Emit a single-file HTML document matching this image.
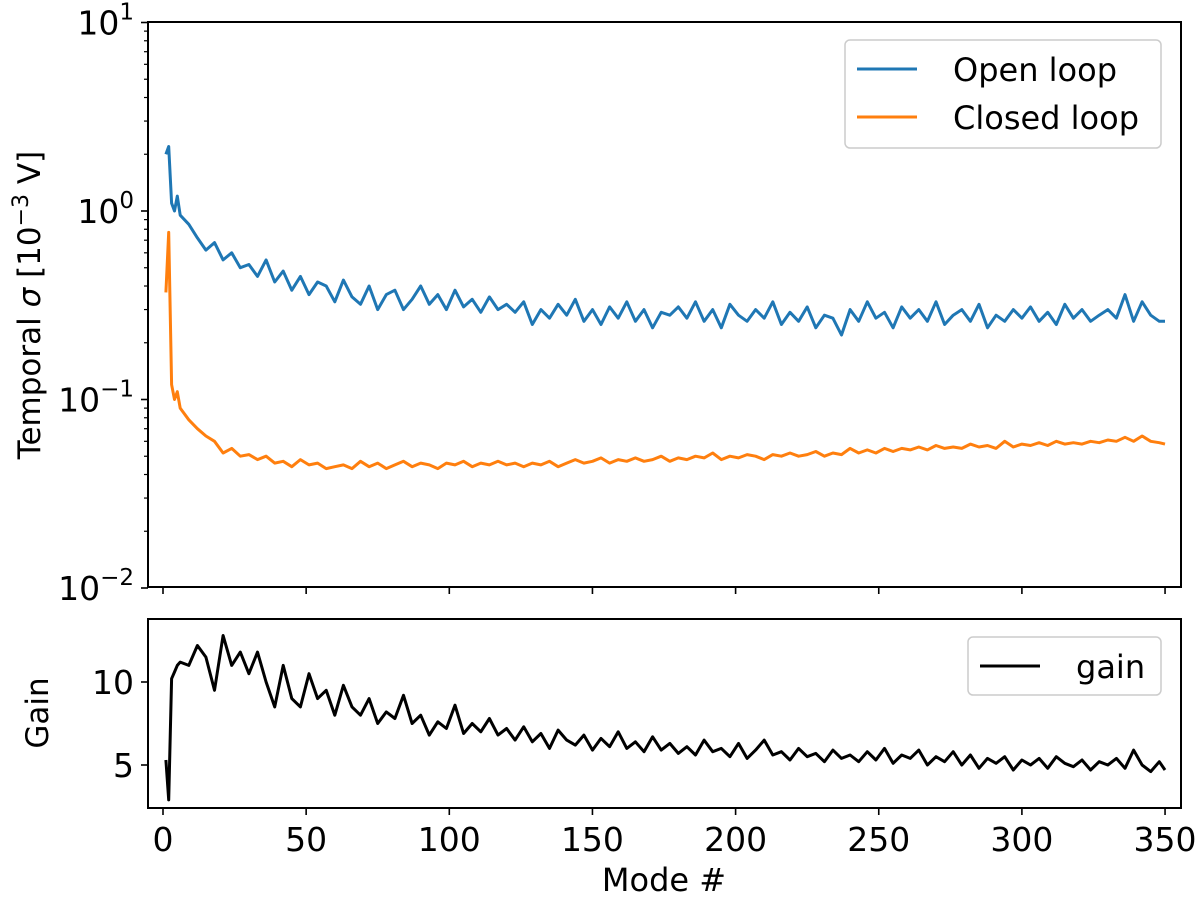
<!DOCTYPE html>
<html><head><meta charset="utf-8"><style>
body{margin:0;background:#fff;position:relative}
svg text{font-family:"DejaVu Sans","Liberation Sans",sans-serif;fill:#000}
</style></head><body>
<svg id="c" width="1200" height="895" xmlns="http://www.w3.org/2000/svg"></svg>
<script>
const baseModes=[1,2,3,4,5,6];
const openLoop=[2.0,2.2,1.1,1.0,1.2,0.95,
0.85,0.72,0.62,0.68,0.55,0.6,0.5,0.52,0.45,0.55,0.42,0.48,0.38,0.45,0.36,0.42,0.4,0.33,
0.43,0.35,0.32,0.4,0.3,0.36,0.38,0.3,0.34,0.4,0.32,0.36,0.3,0.38,0.31,0.34,0.29,0.35,0.3,0.32,
0.29,0.33,0.25,0.3,0.27,0.32,0.28,0.34,0.26,0.3,0.25,0.31,0.27,0.33,0.26,0.3,0.24,0.29,0.28,0.31,
0.27,0.33,0.26,0.3,0.24,0.32,0.28,0.26,0.3,0.27,0.33,0.25,0.29,0.26,0.31,0.24,0.28,0.27,0.22,0.3,
0.26,0.33,0.27,0.29,0.24,0.31,0.27,0.3,0.26,0.33,0.25,0.28,0.3,0.26,0.32,0.24,0.28,0.26,0.3,0.27,
0.31,0.26,0.29,0.25,0.32,0.27,0.3,0.26,0.28,0.3,0.27,0.36,0.26,0.33,0.28,0.26,0.26];
const closedLoop=[0.37,0.77,0.12,0.1,0.11,0.09,
0.078,0.07,0.064,0.06,0.052,0.055,0.05,0.051,0.048,0.05,0.046,0.047,0.044,0.048,0.045,0.046,0.043,0.044,
0.045,0.043,0.047,0.044,0.046,0.043,0.045,0.047,0.044,0.046,0.045,0.043,0.046,0.045,0.047,0.044,0.046,0.045,0.047,0.045,
0.046,0.044,0.046,0.045,0.047,0.044,0.046,0.048,0.046,0.047,0.049,0.046,0.048,0.047,0.049,0.047,0.048,0.05,0.047,0.049,
0.048,0.05,0.049,0.052,0.048,0.05,0.049,0.051,0.05,0.048,0.051,0.05,0.052,0.05,0.051,0.053,0.05,0.052,0.051,0.055,
0.052,0.054,0.052,0.055,0.053,0.055,0.054,0.056,0.054,0.057,0.055,0.056,0.055,0.058,0.056,0.057,0.055,0.06,0.056,0.058,
0.057,0.059,0.057,0.06,0.058,0.059,0.058,0.06,0.059,0.061,0.06,0.063,0.06,0.064,0.06,0.059,0.058];
const gain=[5.3,2.9,10.2,10.6,11,11.2,
11,12.2,11.5,9.5,12.8,11,11.8,10.5,11.8,10,8.5,11,9,8.5,10.5,9,9.5,8,
9.8,8.5,8,9,7.5,8.2,7.8,9.2,7.5,8,6.8,7.6,7.2,8.6,6.9,7.5,7,7.8,6.8,7.2,
6.5,7.3,6.4,6.9,6,7.1,6.5,6.2,6.8,5.9,6.6,6.1,7,6,6.4,5.8,6.7,5.9,6.3,5.7,
6.1,5.6,6.5,5.8,6,5.5,6.3,5.4,5.9,6.5,5.6,5.8,5.3,6,5.5,5.7,5.2,5.9,5.4,5.6,
5.2,5.8,5.3,6,5.1,5.6,5.4,5.9,5,5.5,5.2,5.8,5,5.6,4.8,5.4,5.1,5.5,4.7,5.3,
5,5.4,4.8,5.5,5.1,4.9,5.3,4.7,5.2,5,5.4,4.8,5.9,5,4.6,5.2,4.7];
const xTicks=[0,50,100,150,200,250,300,350];
const gainTicks=[5,10];
const modes=baseModes.slice();
for(let m=9;m<=348;m+=3)modes.push(m);
modes.push(350);

const svg=document.getElementById('c');
const NS='http://www.w3.org/2000/svg';
function mk(t,a,p){const e=document.createElementNS(NS,t);for(const k in a)e.setAttribute(k,a[k]);(p||svg).appendChild(e);return e;}
const L=148,R=1181,T1=22,B1=587,T2=619,B2=808;
const X=v=>163+2.863*v;
const Y1=v=>211-188.5*Math.log10(v);
const Y2=v=>682-16.6*(v-10);

const defs=mk('defs',{});
const c1=mk('clipPath',{id:'cp1'},defs);mk('rect',{x:L,y:T1,width:R-L,height:B1-T1},c1);
const c2=mk('clipPath',{id:'cp2'},defs);mk('rect',{x:L,y:T2,width:R-L,height:B2-T2},c2);

function line(vals,yf,color,clip,name){
  const d=vals.map((v,i)=>(i?'L':'M')+X(modes[i]).toFixed(1)+','+yf(v).toFixed(1)).join('');
  const p=mk('path',{d:d,fill:'none',stroke:color,'stroke-width':3,'stroke-linejoin':'round','clip-path':'url(#'+clip+')'});
  
  
}
line(openLoop,Y1,'#1f77b4','cp1','open-loop-line');
line(closedLoop,Y1,'#ff7f0e','cp1','closed-loop-line');
line(gain,Y2,'#000','cp2','gain-line');

const f1=mk('rect',{x:L,y:T1,width:R-L,height:B1-T1,fill:'none',stroke:'#000','stroke-width':2});

const f2=mk('rect',{x:L,y:T2,width:R-L,height:B2-T2,fill:'none',stroke:'#000','stroke-width':2});


xTicks.forEach(v=>{
  const x=X(v);
  mk('line',{x1:x,x2:x,y1:B1,y2:B1+7,stroke:'#000','stroke-width':1.6});
  mk('line',{x1:x,x2:x,y1:B2,y2:B2+7,stroke:'#000','stroke-width':1.6});
  const t=mk('text',{x:x,y:B2+43,'text-anchor':'middle','font-size':33});
  t.textContent=v;
  
  
});
for(let e=-2;e<=1;e++){
  const y=Y1(Math.pow(10,e));
  mk('line',{x1:L-7,x2:L,y1:y,y2:y,stroke:'#000','stroke-width':1.6});
  const t=mk('text',{x:L-14,y:y+12,'text-anchor':'end','font-size':33});
  t.innerHTML='10<tspan dy="-15" font-size="23">'+(e<0?'\u2212'+(-e):e)+'</tspan>';
  
  
  if(e<1)for(let k=2;k<=9;k++){const yy=Y1(k*Math.pow(10,e));mk('line',{x1:L-4,x2:L,y1:yy,y2:yy,stroke:'#000','stroke-width':1.2});}
}
gainTicks.forEach(v=>{
  const y=Y2(v);
  mk('line',{x1:L-7,x2:L,y1:y,y2:y,stroke:'#000','stroke-width':1.6});
  const t=mk('text',{x:L-14,y:y+12,'text-anchor':'end','font-size':33});
  t.textContent=v;
  
  
});
</script>
<svg width="1200" height="895" style="position:absolute;left:0;top:0" xmlns="http://www.w3.org/2000/svg">
<g>
<rect x="845" y="40" width="316" height="108" rx="5" fill="#fff" fill-opacity="0.8" stroke="#ccc" stroke-width="1.5"/>
<line x1="857" x2="917" y1="69" y2="69" stroke="#1f77b4" stroke-width="3"/>
<text x="953" y="81" font-size="32">Open loop</text>
<line x1="857" x2="917" y1="117" y2="117" stroke="#ff7f0e" stroke-width="3"/>
<text x="953" y="129" font-size="32">Closed loop</text>
</g>
<g>
<rect x="968" y="637" width="193" height="58" rx="5" fill="#fff" fill-opacity="0.8" stroke="#ccc" stroke-width="1.5"/>
<line x1="980" x2="1040" y1="666" y2="666" stroke="#000" stroke-width="3"/>
<text x="1076" y="678" font-size="32">gain</text>
</g>
<text transform="translate(40,305) rotate(-90)" text-anchor="middle" font-size="31">Temporal <tspan font-style="italic">σ</tspan> [10<tspan dy="-12" font-size="22">−3</tspan><tspan dy="12"> V]</tspan></text>
<text transform="translate(48,713) rotate(-90)" text-anchor="middle" font-size="31">Gain</text>
<text x="664" y="891" text-anchor="middle" font-size="32">Mode #</text>
</svg>
</body></html>
